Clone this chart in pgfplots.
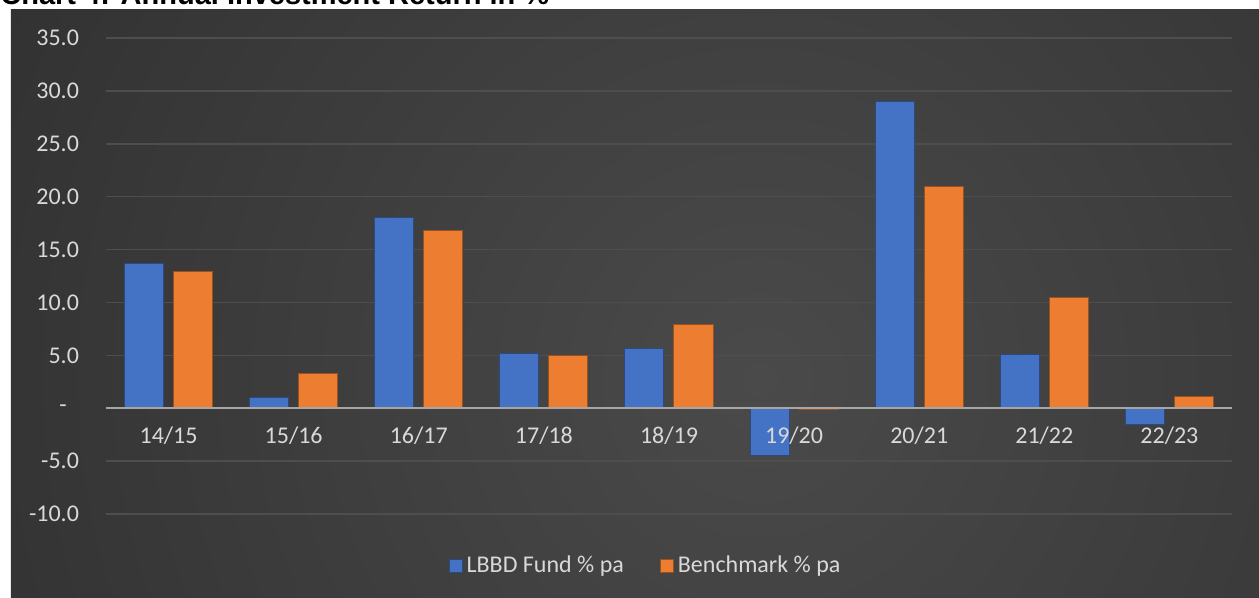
\documentclass[border=0pt]{standalone}
\usepackage{fontspec}
\setmainfont{Carlito}
\newfontfamily\titlefont{Liberation Sans}
\usepackage{pgfplots}
\pgfplotsset{compat=1.18}
\definecolor{fundblue}{HTML}{4472C4}
\definecolor{benchorange}{HTML}{ED7D31}
\definecolor{bgin}{HTML}{4A4A4A}
\definecolor{bgout}{HTML}{222222}
\definecolor{gridc}{HTML}{4E4E4E}
\definecolor{zeroc}{HTML}{A6A6A6}
\definecolor{labc}{HTML}{D9D9D9}
\tikzset{xlab/.style={anchor=north, text=labc, font=\fontsize{12}{14}\selectfont, yshift=-6pt}}
\begin{document}
\begin{tikzpicture}
\useasboundingbox (-53pt,-42pt) rectangle (576.5pt,257pt);
\fill[white] (-53pt,-42pt) rectangle (576.5pt,257pt);
\begin{scope}
\clip (-47.5pt,-42pt) rectangle (576.5pt,252pt);
\shade[inner color=bgin, outer color=bgout] (327pt,67pt) circle (700pt);
\end{scope}
\node[anchor=base west, inner sep=0pt, font=\titlefont\bfseries\fontsize{14.5}{17}\selectfont] at (-53pt,254.5pt) {Chart 4: Annual Investment Return in \%};
\begin{axis}[
  scale only axis, width=563pt, height=238pt,
  at={(0pt,0pt)}, anchor=south west,
  xmin=-0.5, xmax=8.5, ymin=-10, ymax=35,
  ybar=5pt, bar width=19.5pt,
  xtick=\empty,
  ytick={-10,-5,0,5,10,15,20,25,30,35},
  yticklabels={-10.0,-5.0,-\hphantom{0},5.0,10.0,15.0,20.0,25.0,30.0,35.0},
  axis line style={draw=none}, major tick length=0pt,
  ymajorgrids, grid style={gridc, line width=0.75pt},
  tick label style={text=labc, font=\fontsize{12}{14}\selectfont},
  yticklabel style={xshift=-10pt},
  legend columns=2,
  legend style={at={(0.48,-0.109)}, anchor=center, draw=none, fill=none,
    text=labc, font=\fontsize{12}{14}\selectfont,
    /tikz/every even column/.append style={column sep=16pt}},
  legend image code/.code={\fill[#1] (0pt,-3.25pt) rectangle (6.5pt,3.25pt);},
  clip=false,
]
\addplot[fill=fundblue, draw=fundblue!65!black, line width=0.5pt] coordinates {
(0,13.7) (1,1.0) (2,18.0) (3,5.2) (4,5.6) (5,-4.5) (6,29.0) (7,5.1) (8,-1.5)};
\addlegendentry{LBBD Fund \% pa}
\addplot[fill=benchorange, draw=benchorange!65!black, line width=0.5pt] coordinates {
(0,12.9) (1,3.3) (2,16.8) (3,5.0) (4,7.9) (5,-0.1) (6,21.0) (7,10.5) (8,1.15)};
\addlegendentry{Benchmark \% pa}
\draw[zeroc, line width=1.25pt] (axis cs:-0.5,0) -- (axis cs:8.5,0);
\node[xlab] at (axis cs:0,0) {14/15};
\node[xlab] at (axis cs:1,0) {15/16};
\node[xlab] at (axis cs:2,0) {16/17};
\node[xlab] at (axis cs:3,0) {17/18};
\node[xlab] at (axis cs:4,0) {18/19};
\node[xlab] at (axis cs:5,0) {19/20};
\node[xlab] at (axis cs:6,0) {20/21};
\node[xlab] at (axis cs:7,0) {21/22};
\node[xlab] at (axis cs:8,0) {22/23};
\end{axis}
\end{tikzpicture}
\end{document}
